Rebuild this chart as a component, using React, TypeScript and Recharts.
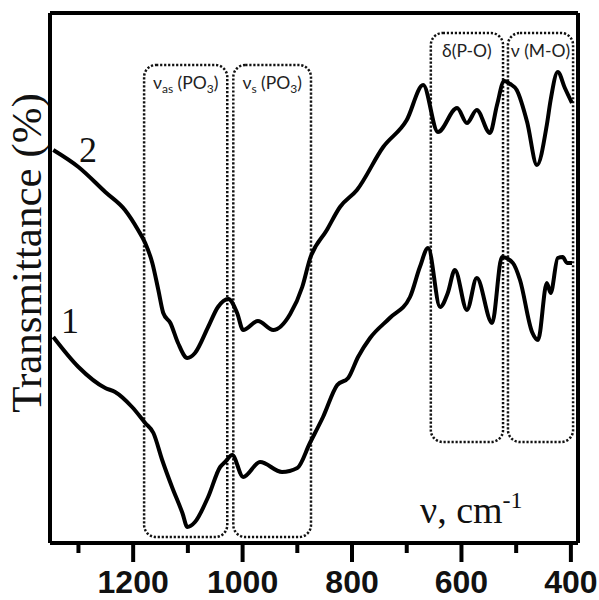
import React from "react"
import { LineChart, Line, XAxis, YAxis, ReferenceArea } from "recharts"

// wavenumbers (cm-1) and transmittance (arb. units) for each spectrum
const wave1 = [1346, 1300, 1251, 1233, 1202, 1178, 1163, 1147, 1129, 1110, 1101, 1087, 1063, 1041, 1032, 1019, 999, 968, 928, 900, 877, 853, 827, 807, 789, 767, 731, 694, 676, 661, 639, 625, 612, 590, 572, 544, 526, 506, 493, 471, 460, 444, 437, 424, 415, 407, 398]
const trans1 = [206, 176, 155, 151, 136, 120, 110, 83, 56, 30, 16, 21, 46, 76, 81, 88, 66, 81, 71, 75, 100, 126, 158, 165, 186, 205, 225, 246, 276, 295, 236, 250, 273, 233, 265, 220, 286, 280, 263, 211, 203, 260, 250, 285, 286, 280, 280]

const wave2 = [1346, 1300, 1251, 1215, 1191, 1178, 1165, 1154, 1145, 1132, 1118, 1101, 1087, 1063, 1045, 1026, 1010, 999, 972, 944, 913, 891, 877, 846, 822, 791, 743, 700, 670, 643, 608, 590, 572, 548, 535, 522, 511, 499, 480, 462, 444, 437, 424, 411, 398]
const trans2 = [393, 376, 351, 333, 313, 300, 280, 253, 230, 220, 200, 185, 190, 216, 236, 244, 230, 213, 222, 213, 229, 256, 284, 313, 336, 353, 396, 423, 458, 411, 435, 420, 433, 410, 438, 462, 459, 453, 421, 378, 418, 443, 471, 455, 440]

const xTicks = [1300, 1200, 1100, 1000, 900, 800, 700, 600, 500, 400]

// band regions: [from, to, bottom, top]
const bands = [
  { main: "ν", sub: "as", rest: " (PO", sub2: "3", end: ")", x1: 1180, x2: 1028, y1: 6, y2: 478 },
  { main: "ν", sub: "s", rest: " (PO", sub2: "3", end: ")", x1: 1017, x2: 875, y1: 6, y2: 478 },
  { main: "δ(P-O)", sub: "", rest: "", sub2: "", end: "", x1: 656, x2: 524, y1: 101, y2: 510 },
  { main: "ν (M-O)", sub: "", rest: "", sub2: "", end: "", x1: 515, x2: 396, y1: 101, y2: 510 },
]

const series1 = wave1.map((w, i) => ({ w, t: trans1[i] }))
const series2 = wave2.map((w, i) => ({ w, t: trans2[i] }))

function XTick(props: any) {
  const { x, y, payload } = props
  const major = payload.value % 200 === 0
  return (
    <g>
      <line x1={x} x2={x} y1={y} y2={y + (major ? 19 : 10)} stroke="#000" strokeWidth={4} />
      {major && (
        <text x={x} y={y + 50} textAnchor="middle" fontFamily="'Liberation Sans', Arial, sans-serif" fontWeight="bold" fontSize={32} fill="#111">
          {payload.value}
        </text>
      )}
    </g>
  )
}

function bandShape(b: any) {
  return (p: any) => {
    const { x, y, width, height } = p
    const cx = x + width / 2
    return (
      <g>
        <rect x={x} y={y} width={width} height={height} rx={12} ry={12} fill="none" stroke="#111" strokeWidth={2.5} strokeDasharray="2.2 1.8" />
        <text x={cx} y={y + 24} textAnchor="middle" fontFamily="Lato, 'Open Sans', sans-serif" fontSize={17.5} fill="#222">
          <tspan>{b.main}</tspan>
          {b.sub && <tspan fontSize={12} dy={4}>{b.sub}</tspan>}
          {b.rest && <tspan dy={b.sub ? -4 : 0}>{b.rest}</tspan>}
          {b.sub2 && <tspan fontSize={12} dy={4}>{b.sub2}</tspan>}
          {b.end && <tspan dy={-4}>{b.end}</tspan>}
        </text>
      </g>
    )
  }
}

export default function App() {
  return (
    <div style={{ position: "absolute", left: 0, top: 0, background: "#fff" }}>
      <LineChart width={599} height={600} margin={{ top: 0, right: 0, left: 0, bottom: 0 }}>
        <XAxis xAxisId="b" type="number" dataKey="w" domain={[387, 1352]} reversed ticks={xTicks} interval={0}
          height={57} tickSize={0} tickMargin={0} tickLine={false} axisLine={{ stroke: "#000", strokeWidth: 4 }} tick={<XTick />} allowDuplicatedCategory={false} />
        <XAxis xAxisId="t" orientation="top" type="number" dataKey="w" domain={[387, 1352]} reversed height={13}
          tick={false} tickLine={false} axisLine={{ stroke: "#000", strokeWidth: 4 }} />
        <YAxis yAxisId="l" type="number" domain={[0, 530]} width={50} tick={false} tickLine={false} axisLine={{ stroke: "#000", strokeWidth: 4 }} />
        <YAxis yAxisId="r" orientation="right" type="number" domain={[0, 530]} width={21} tick={false} tickLine={false} axisLine={{ stroke: "#000", strokeWidth: 4 }} />
        {bands.map((b, i) => (
          <ReferenceArea key={i} xAxisId="b" yAxisId="l" x1={b.x1} x2={b.x2} y1={b.y1} y2={b.y2} shape={bandShape(b)} />
        ))}
        <Line xAxisId="b" yAxisId="l" data={series1} dataKey="t" type="monotone" stroke="#000" strokeWidth={4} dot={false} isAnimationActive={false} />
        <Line xAxisId="b" yAxisId="l" data={series2} dataKey="t" type="monotone" stroke="#000" strokeWidth={4} dot={false} isAnimationActive={false} />
        <text x={41} y={253} transform="rotate(-90, 41, 253)" textAnchor="middle" fontFamily="'Liberation Serif', 'Times New Roman', serif" fontSize={43} fill="#111">
          Transmittance (%)
        </text>
        <text x={88} y={162} textAnchor="middle" fontFamily="'Liberation Serif', serif" fontSize={36} fill="#111">2</text>
        <text x={70} y={333} textAnchor="middle" fontFamily="'Liberation Serif', serif" fontSize={36} fill="#111">1</text>
        <text x={420} y={523} fontFamily="'Liberation Serif', serif" fontSize={38} fill="#111">
          ν, cm<tspan fontSize={24} dy={-15}>-1</tspan>
        </text>
      </LineChart>
    </div>
  )
}
